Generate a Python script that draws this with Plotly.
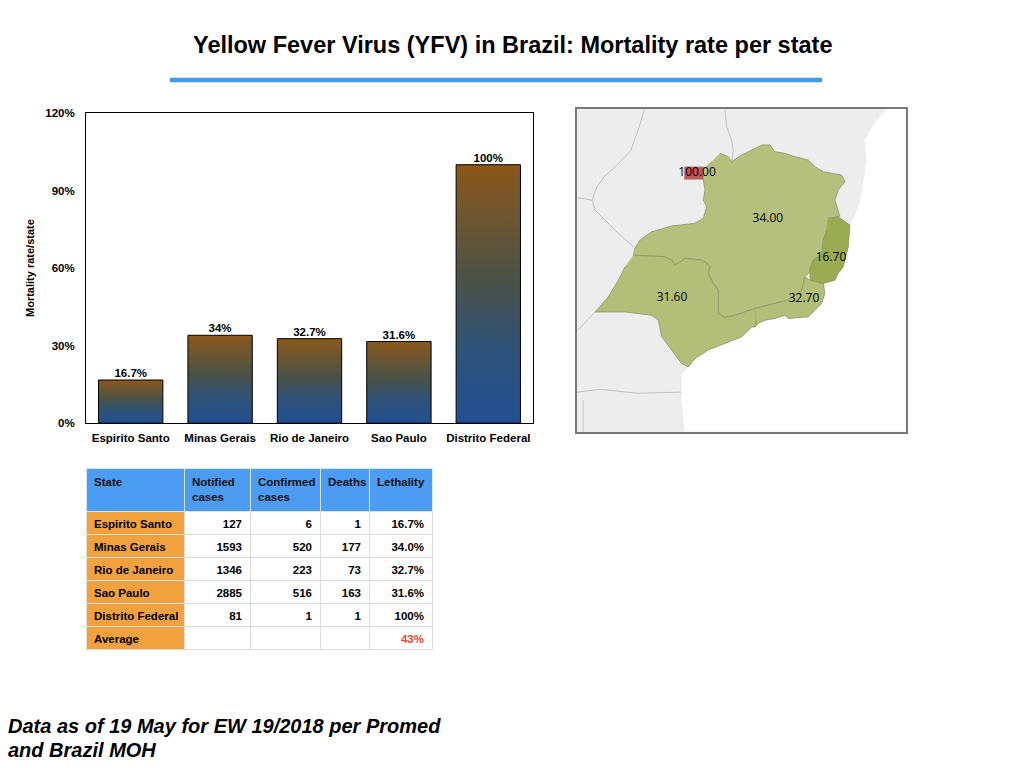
import plotly.graph_objects as go

# ---------------- data ----------------
states = ["Espirito Santo", "Minas Gerais", "Rio de Janeiro", "Sao Paulo", "Distrito Federal"]
mortality = [16.7, 34.0, 32.7, 31.6, 100.0]
bar_labels = ["16.7%", "34%", "32.7%", "31.6%", "100%"]
y_ticks = [0, 30, 60, 90, 120]
y_tick_labels = ["0%", "30%", "60%", "90%", "120%"]

notified = [127, 1593, 1346, 2885, 81]
confirmed = [6, 520, 223, 516, 1]
deaths = [1, 177, 73, 163, 1]
lethality = ["16.7%", "34.0%", "32.7%", "31.6%", "100%"]
average_label = "Average"
average_lethality = "43%"
table_header = ["State", "Notified<br>cases", "Confirmed<br>cases", "Deaths", "Lethality"]

# map outlines (approximate lon / lat)
mg_lon = [-46.52, -46.08, -45.91, -45.38, -44.85, -44.33, -43.89, -43.63, -43.10, -42.57, -41.87, -41.52,
          -41.08, -40.12, -39.94, -40.30, -40.47, -40.30, -40.21, -40.82, -40.91, -41.08, -41.17, -41.61,
          -41.78, -41.78, -42.05, -42.22, -42.93, -43.63, -44.33, -44.68, -45.73, -46.26, -46.61, -46.61,
          -46.61, -46.87, -47.14, -47.05, -47.22, -47.48, -48.36, -48.89, -49.06, -49.42, -50.82, -51.08,
          -51.00, -50.73, -50.12, -49.06, -47.84, -47.40, -47.22, -47.40, -47.31, -47.40, -47.40, -46.96]
mg_lat = [-14.89, -15.05, -15.30, -14.97, -14.73, -14.48, -14.48, -14.81, -14.89, -15.05, -15.22, -15.54,
          -15.79, -15.95, -16.27, -16.68, -17.17, -17.65, -17.95, -18.06, -18.63, -19.12, -19.85, -20.09,
          -20.50, -20.66, -20.91, -21.56, -22.04, -22.21, -22.37, -22.45, -22.78, -22.89, -22.69, -22.04,
          -21.56, -21.23, -20.74, -20.42, -20.25, -20.09, -20.01, -20.34, -20.09, -19.93, -19.85, -19.85,
          -19.52, -19.12, -18.71, -18.43, -18.30, -18.06, -17.49, -17.17, -16.68, -16.19, -15.70, -15.30]
es_lon = [-40.82, -40.30, -39.68, -39.77, -40.03, -40.30, -40.47, -41.08, -41.78, -41.78, -41.78, -41.61,
          -41.17, -41.08, -40.91]
es_lat = [-18.06, -17.98, -18.39, -19.44, -20.42, -20.74, -21.07, -21.23, -21.07, -20.66, -20.50, -20.09,
          -19.85, -19.12, -18.63]
rj_lon = [-44.68, -43.63, -42.93, -42.22, -42.05, -41.78, -41.08, -41.00, -41.17, -41.87, -42.93, -43.10,
          -43.63, -44.15, -44.51, -44.68, -44.59]
rj_lat = [-22.45, -22.21, -22.04, -21.56, -20.91, -21.07, -21.23, -21.72, -22.21, -22.86, -22.94, -22.78,
          -22.94, -23.02, -23.18, -23.35, -23.02]
sp_lon = [-51.08, -49.42, -49.06, -48.89, -48.36, -47.48, -47.22, -47.05, -47.14, -46.87, -46.61, -46.61,
          -46.61, -46.26, -45.73, -44.68, -44.59, -44.68, -44.85, -45.38, -46.26, -47.14, -47.84, -48.19,
          -48.54, -49.06, -49.59, -49.77, -50.12, -51.52, -53.10, -52.40, -51.87, -51.52]
sp_lat = [-19.85, -19.93, -20.09, -20.34, -20.01, -20.09, -20.25, -20.42, -20.74, -21.23, -21.56, -22.04,
          -22.69, -22.89, -22.78, -22.45, -23.02, -23.35, -23.35, -23.83, -24.16, -24.48, -24.89, -25.30,
          -25.13, -24.48, -23.83, -23.02, -22.78, -22.62, -22.62, -21.88, -21.07, -20.42]
df_lon = [-48.40, -47.40, -47.40, -48.40]
df_lat = [-15.55, -15.55, -16.15, -16.15]

ocean_lon = [-36.73, -36.73, -48.42, -48.57, -48.57, -48.19, -47.84, -47.14, -46.26, -45.38, -44.85, -44.68,
             -44.51, -44.15, -43.63, -43.10, -42.93, -41.87, -41.17, -41.00, -41.08, -40.47, -40.30, -40.03,
             -39.77, -39.68, -39.26, -39.05, -38.84, -38.94, -38.47, -37.78]
ocean_lat = [-12.73, -28.48, -28.48, -26.92, -25.61, -25.30, -24.89, -24.48, -24.16, -23.83, -23.35, -23.35,
             -23.18, -23.02, -22.94, -22.78, -22.94, -22.86, -22.21, -21.72, -21.23, -21.07, -20.74, -20.42,
             -19.44, -18.39, -17.51, -16.68, -15.22, -14.24, -13.51, -12.73]

border_lines = [
    ([-50.52, -50.78, -51.21, -51.94, -52.63, -53.00, -53.26, -53.10, -51.94, -51.05],
     [-12.78, -13.61, -14.73, -15.46, -16.04, -16.53, -17.17, -17.65, -18.73, -19.46]),
    ([-46.26, -46.17, -45.91, -45.82, -45.91], [-12.78, -13.59, -14.24, -14.73, -15.30]),
    ([-53.10, -53.99], [-22.62, -23.51]),
    ([-54.05, -52.84, -50.89, -48.57], [-26.53, -26.39, -26.58, -26.53]),
    ([-53.73, -53.73], [-26.92, -28.48]),
    ([-54.05, -53.26], [-17.05, -17.17]),
]

map_names = ["Distrito Federal", "Minas Gerais", "Espirito Santo", "Rio de Janeiro", "Sao Paulo"]
map_values = [100.00, 34.00, 16.70, 32.70, 31.60]
label_lon = [-47.73, -44.00, -40.68, -42.10, -49.05]
label_lat = [-15.85, -18.09, -20.00, -22.00, -21.95]

# ---------------- figure ----------------
fig = go.Figure()

W, H = 1024, 768
def px(x):
    return x / W
def py(y):
    # small vertical correction measured from the rendered page
    return 1 - ((y - 6) / 0.984) / H

grad = [[0.0, "#214f91"], [0.3, "#2f5277"], [0.55, "#4a5247"], [0.8, "#6d5630"], [1.0, "#8b5719"]]
half = 0.36
for i, (s, v) in enumerate(zip(states, mortality)):
    fig.add_trace(go.Scatter(
        x=[i - half, i - half, i + half, i + half, i - half],
        y=[0, v, v, 0, 0],
        fill="toself",
        fillgradient=dict(type="vertical", colorscale=grad),
        line=dict(color="black", width=1),
        mode="lines", hoverinfo="skip", showlegend=False,
        xaxis="x", yaxis="y"))

fig.add_trace(go.Scatter(
    x=list(range(len(states))), y=mortality, text=bar_labels, mode="text",
    textposition="top center", textfont=dict(family="Liberation Sans", size=11.5, color="black", weight="bold"),
    hoverinfo="skip", showlegend=False, xaxis="x", yaxis="y"))

# ---- map ----
map_kw = dict(xaxis="x2", yaxis="y2", hoverinfo="skip", showlegend=False)
fig.add_trace(go.Scatter(x=ocean_lon, y=ocean_lat, fill="toself", fillcolor="white",
                         line=dict(color="#e2e2e2", width=0.5), mode="lines", **map_kw))
for bl_lon, bl_lat in border_lines:
    fig.add_trace(go.Scatter(x=bl_lon, y=bl_lat, mode="lines",
                             line=dict(color="#c2c2c2", width=1), **map_kw))
state_fill = {"Minas Gerais": "#b5c07c", "Sao Paulo": "#b3be79", "Rio de Janeiro": "#b3be79",
              "Espirito Santo": "#9aab52", "Distrito Federal": "#c5545f"}
for name, lo, la in [("Minas Gerais", mg_lon, mg_lat), ("Sao Paulo", sp_lon, sp_lat),
                     ("Rio de Janeiro", rj_lon, rj_lat), ("Espirito Santo", es_lon, es_lat),
                     ("Distrito Federal", df_lon, df_lat)]:
    fig.add_trace(go.Scatter(x=lo, y=la, fill="toself", fillcolor=state_fill[name],
                             line=dict(color="#8e9766", width=0.8), mode="lines", **map_kw))
fig.add_trace(go.Scatter(x=label_lon, y=label_lat, mode="text",
                         text=[f"{v:.2f}" for v in map_values],
                         textfont=dict(family="Open Sans", size=12, color="black"), **map_kw))

# ---- table ----
nb = "\u00a0"
col_state = [s.replace(" ", nb) for s in states] + [average_label]
col_not = [str(v) for v in notified] + [""]
col_conf = [str(v) for v in confirmed] + [""]
col_death = [str(v) for v in deaths] + [""]
col_leth = lethality + [average_lethality]
cols = [col_state, col_not, col_conf, col_death, col_leth]
n = len(col_state)
font_colors = [["black"] * n] * 4 + [["black"] * (n - 1) + ["#e8482f"]]
fig.add_trace(go.Table(
    domain=dict(x=[px(86), px(432)], y=[py(650), py(468)]),
    columnwidth=[98, 66, 70, 49, 63],
    header=dict(values=[f"<b>{h}</b>" for h in table_header],
                fill_color="#4b9cf2", align="left", height=38,
                line=dict(color="#d6e6f7", width=1),
                font=dict(family="Liberation Sans", size=11.5, color="#111111")),
    cells=dict(values=cols,
               fill_color=[["#f1a23f"] * n, ["white"] * n, ["white"] * n, ["white"] * n, ["white"] * n],
               align=["left", "right", "right", "right", "right"], height=23,
               line=dict(color="#dcdcdc", width=1),
               font=dict(family="Liberation Sans", size=11.5, color=font_colors, weight="bold"))))

# ---- layout ----
fig.update_layout(
    width=W, height=H, autosize=False,
    margin=dict(l=0, r=0, t=0, b=0),
    paper_bgcolor="white", plot_bgcolor="white",
    showlegend=False,
    xaxis=dict(domain=[px(86), px(533)], range=[-0.5, len(states) - 0.5], anchor="y",
               tickvals=list(range(len(states))), ticktext=[f"<b>{s}</b>" for s in states],
               tickfont=dict(family="Liberation Sans", size=11.5, color="black"),
               showgrid=False, zeroline=False, showline=True, mirror=True,
               linecolor="black", linewidth=1, ticks="outside", ticklen=4, tickcolor="rgba(0,0,0,0)",
               fixedrange=True),
    yaxis=dict(domain=[py(423), py(113)], range=[0, 120], anchor="x",
               tickvals=y_ticks, ticktext=[f"<b>{t}</b>" for t in y_tick_labels],
               tickfont=dict(family="Liberation Sans", size=11.5, color="black"),
               showgrid=False, zeroline=False, showline=True, mirror=True,
               linecolor="black", linewidth=1, ticks="outside", ticklen=8, tickcolor="rgba(0,0,0,0)",
               title=dict(text="<b>Mortality rate/state</b>", standoff=8,
                          font=dict(family="Liberation Sans", size=11, color="black")),
               fixedrange=True),
    xaxis2=dict(domain=[px(577), px(906)], range=[-54.05, -36.73], anchor="y2",
                showgrid=False, zeroline=False,
                showticklabels=False, ticks="", showline=True, mirror=True, linecolor="#787878",
                linewidth=2, fixedrange=True),
    yaxis2=dict(domain=[py(432), py(109)], range=[-28.48, -12.73], anchor="x2",
                showgrid=False, zeroline=False,
                showticklabels=False, ticks="", showline=True, mirror=True, linecolor="#787878",
                linewidth=2, fixedrange=True),
    shapes=[
        dict(type="rect", xref="x2 domain", yref="y2 domain", x0=0, x1=1, y0=0, y1=1,
             fillcolor="#ededed", line=dict(width=0), layer="below"),
        dict(type="line", xref="paper", yref="paper", x0=px(170), x1=px(822), y0=py(80), y1=py(80),
             line=dict(color="#3f98ec", width=4.5)),
    ],
    annotations=[
        dict(text="<b>Yellow Fever Virus (YFV) in Brazil: Mortality rate per state</b>",
             xref="paper", yref="paper", x=0.5, y=py(45), xanchor="center", yanchor="middle",
             showarrow=False, font=dict(family="Liberation Sans", size=23.5, color="black")),
        dict(text="<b><i>Data as of 19 May for EW 19/2018 per Promed</i></b>",
             xref="paper", yref="paper", x=px(6), y=py(726), xanchor="left", yanchor="middle",
             align="left", showarrow=False,
             font=dict(family="Liberation Sans", size=20, color="black")),
        dict(text="<b><i>and Brazil MOH</i></b>",
             xref="paper", yref="paper", x=px(6), y=py(750), xanchor="left", yanchor="middle",
             align="left", showarrow=False,
             font=dict(family="Liberation Sans", size=20, color="black")),
    ],
)

fig.write_html("out.html", config={"displayModeBar": False},
               post_script="document.body.style.margin='0px';document.body.style.padding='0px';")
